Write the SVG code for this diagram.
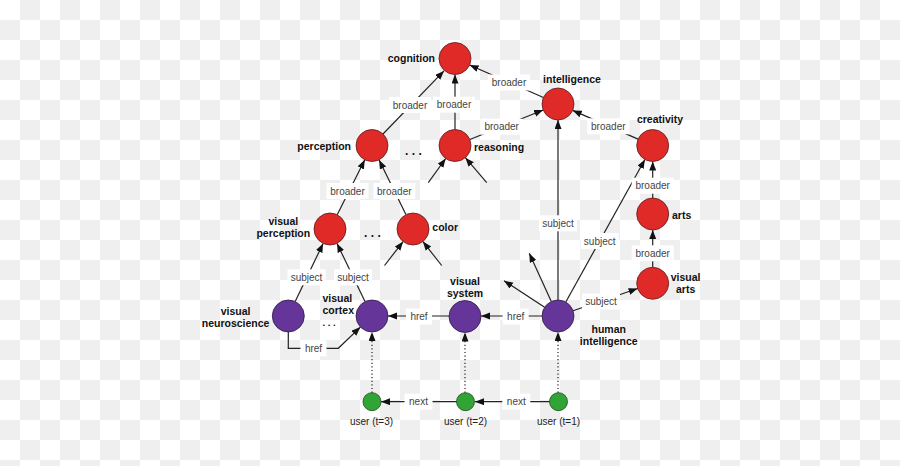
<svg xmlns="http://www.w3.org/2000/svg" width="900" height="466" viewBox="0 0 900 466">
<defs>
<pattern id="checker" x="0" y="0" width="40" height="40" patternUnits="userSpaceOnUse">
<rect width="40" height="40" fill="#ffffff"/>
<rect x="20" y="0" width="20" height="20" fill="#efefef"/>
<rect x="0" y="20" width="20" height="20" fill="#efefef"/>
</pattern>
<marker id="arr" markerUnits="userSpaceOnUse" markerWidth="10" markerHeight="8" refX="9" refY="3.5" orient="auto">
<path d="M0,0 L9,3.5 L0,7 z" fill="#111"/>
</marker>
</defs>
<style>
.edge{fill:none;stroke:#222;stroke-width:1.2;marker-end:url(#arr)}
.dot{fill:none;stroke:#222;stroke-width:1.2;stroke-dasharray:1.2,2.4;marker-end:url(#arr)}
.lbox{fill:#ffffff}
.ltxt{font-family:"Liberation Sans",Arial,sans-serif;font-size:10px;fill:#444;text-anchor:middle}
.red{fill:#e02a28;stroke:#5a1c1c;stroke-width:0.8}
.pur{fill:#653599;stroke:#2e1a44;stroke-width:0.8}
.grn{fill:#30a535;stroke:#1c4a1c;stroke-width:0.8}
.nl{font-family:"Liberation Sans",Arial,sans-serif;font-size:10.5px;font-weight:bold;fill:#111}
.ul{font-family:"Liberation Sans",Arial,sans-serif;font-size:10px;fill:#222;text-anchor:middle}
.mid{text-anchor:middle}
.end{text-anchor:end}
</style>
<rect width="900" height="466" fill="url(#checker)"/>
<g id="connectors">
<path class="edge" d="M383,134 L444,70.9"/>
<path class="edge" d="M455,129.5 V74.5"/>
<path class="edge" d="M543.4,97.5 L469.6,65"/>
<path class="edge" d="M469.8,139.5 L543.2,110"/>
<path class="edge" d="M638,139.1 L572.7,110.4"/>
<path class="edge" d="M337.2,214.7 L364.8,159.8"/>
<path class="edge" d="M405.9,214.6 L379.1,159.9"/>
<path class="edge" d="M428.3,182.7 L445.7,158.5"/>
<path class="edge" d="M486.7,182.7 L465.4,157.7"/>
<path class="edge" d="M295.2,301.6 L323.1,243.4"/>
<path class="edge" d="M365,301.6 L337,243.4"/>
<path class="edge" d="M384.5,265.5 L403.1,241.6"/>
<path class="edge" d="M441.7,265.5 L422.9,241.6"/>
<path class="edge" d="M544.6,307.3 L504,280.7"/>
<path class="edge" d="M551.3,301.5 L529.3,253.3"/>
<path class="edge" d="M558,300 V120"/>
<path class="edge" d="M565.8,302 L644.9,159.5"/>
<path class="edge" d="M573.1,310.8 L637.6,288.5"/>
<path class="edge" d="M652.7,198 V161.5"/>
<path class="edge" d="M652.7,267.3 V230"/>
<path class="edge" d="M542,316 H481"/>
<path class="edge" d="M449,316 H388"/>
<path class="edge" d="M288.3,332 V348.3 H338.3 L360.4,327.1"/>
<path class="dot" d="M558,392.7 V332"/>
<path class="dot" d="M465,392.7 V332.5"/>
<path class="dot" d="M372,392.7 V332"/>
<path class="edge" d="M549.8,401.7 H475"/>
<path class="edge" d="M457,401.7 H381"/>
<g id="edge-labels">
<rect class="lbox" x="389" y="97" width="42" height="16"/><text class="ltxt" x="410" y="108.5">broader</text>
<rect class="lbox" x="433" y="96.7" width="42" height="16"/><text class="ltxt" x="454" y="108.2">broader</text>
<rect class="lbox" x="488" y="74.5" width="42" height="16"/><text class="ltxt" x="509" y="86">broader</text>
<rect class="lbox" x="480.7" y="118.7" width="42" height="16"/><text class="ltxt" x="501.7" y="130.2">broader</text>
<rect class="lbox" x="587.3" y="118.3" width="42" height="16"/><text class="ltxt" x="608.3" y="129.8">broader</text>
<rect class="lbox" x="326.5" y="183" width="42" height="16"/><text class="ltxt" x="347.5" y="194.5">broader</text>
<rect class="lbox" x="373.3" y="183" width="42" height="16"/><text class="ltxt" x="394.3" y="194.5">broader</text>
<rect class="lbox" x="287.5" y="269.3" width="38" height="16"/><text class="ltxt" x="306.5" y="280.8">subject</text>
<rect class="lbox" x="334" y="269.3" width="38" height="16"/><text class="ltxt" x="353" y="280.8">subject</text>
<rect class="lbox" x="539" y="215.3" width="38" height="16"/><text class="ltxt" x="558" y="226.8">subject</text>
<rect class="lbox" x="580.7" y="233" width="38" height="16"/><text class="ltxt" x="599.7" y="244.5">subject</text>
<rect class="lbox" x="582" y="293.5" width="38" height="16"/><text class="ltxt" x="601" y="305">subject</text>
<rect class="lbox" x="631.7" y="177.7" width="42" height="16"/><text class="ltxt" x="652.7" y="189.2">broader</text>
<rect class="lbox" x="631.7" y="245.3" width="42" height="16"/><text class="ltxt" x="652.7" y="256.8">broader</text>
<rect class="lbox" x="502.7" y="308.5" width="26" height="16"/><text class="ltxt" x="515.7" y="320">href</text>
<rect class="lbox" x="406" y="308.5" width="26" height="16"/><text class="ltxt" x="419" y="320">href</text>
<rect class="lbox" x="300.5" y="340.3" width="26" height="16"/><text class="ltxt" x="313.5" y="351.8">href</text>
<rect class="lbox" x="502.3" y="393.7" width="28" height="16"/><text class="ltxt" x="516.3" y="405.2">next</text>
<rect class="lbox" x="404.5" y="393.7" width="28" height="16"/><text class="ltxt" x="418.5" y="405.2">next</text>
</g>
</g>
<g id="cognition"><circle class="red" cx="455" cy="58.5" r="16"/><text class="nl end" x="435" y="62.3">cognition</text></g>
<g id="intelligence"><circle class="red" cx="558" cy="104" r="16"/><text class="nl mid" x="572" y="83.1">intelligence</text></g>
<g id="perception"><circle class="red" cx="372" cy="145.5" r="16"/><text class="nl end" x="351" y="149.8">perception</text></g>
<g id="ellipsis1"><text class="nl" x="405" y="154.5" style="font-size:12px;letter-spacing:3.4px">...</text></g>
<g id="reasoning"><circle class="red" cx="455" cy="145.5" r="16"/><text class="nl" x="474" y="150.5">reasoning</text></g>
<g id="creativity"><circle class="red" cx="652.7" cy="145.5" r="16"/><text class="nl mid" x="660" y="122.8">creativity</text></g>
<g id="visual-perception"><circle class="red" cx="330" cy="229" r="16"/><text class="nl mid" x="283.3" y="224.5">visual</text><text class="nl mid" x="283.3" y="237.1">perception</text></g>
<g id="ellipsis2"><text class="nl" x="364" y="237.2" style="font-size:12px;letter-spacing:3.4px">...</text></g>
<g id="color"><circle class="red" cx="413" cy="229" r="16"/><text class="nl" x="432.3" y="231.1">color</text></g>
<g id="arts"><circle class="red" cx="652.7" cy="214" r="16"/><text class="nl" x="672" y="218.8">arts</text></g>
<g id="visual-arts"><circle class="red" cx="652.7" cy="283.3" r="16"/><text class="nl mid" x="685.6" y="280.5">visual</text><text class="nl mid" x="685.6" y="293.1">arts</text></g>
<g id="visual-neuroscience"><circle class="pur" cx="288.3" cy="316" r="16"/><text class="nl mid" x="235.6" y="314.5">visual</text><text class="nl mid" x="235.6" y="326.5">neuroscience</text></g>
<g id="visual-cortex"><circle class="pur" cx="372" cy="316" r="16"/><text class="nl" x="322.5" y="302.1">visual</text><text class="nl" x="322.5" y="314.3">cortex</text><text class="nl" x="322.5" y="325.6" style="font-size:9.5px;letter-spacing:2.6px">...</text></g>
<g id="visual-system"><circle class="pur" cx="465" cy="316.5" r="16"/><text class="nl mid" x="465" y="284.5">visual</text><text class="nl mid" x="465" y="296.5">system</text></g>
<g id="human-intelligence"><circle class="pur" cx="558" cy="316" r="16"/><text class="nl mid" x="608.7" y="333.1">human</text><text class="nl mid" x="608.7" y="344.8">intelligence</text></g>
<g id="user-t3"><circle class="grn" cx="372" cy="401.7" r="9"/><text class="ul" x="371.5" y="424.5">user (t=3)</text></g>
<g id="user-t2"><circle class="grn" cx="465.5" cy="401.7" r="9"/><text class="ul" x="465.5" y="424.5">user (t=2)</text></g>
<g id="user-t1"><circle class="grn" cx="558.5" cy="401.7" r="9"/><text class="ul" x="558.5" y="424.5">user (t=1)</text></g>
</svg>
